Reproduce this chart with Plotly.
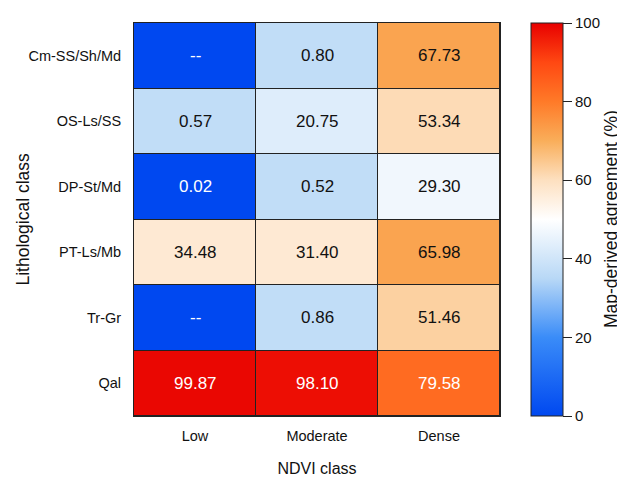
import plotly.graph_objects as go

ndvi_classes = ["Low", "Moderate", "Dense"]
litho_classes = ["Cm-SS/Sh/Md", "OS-Ls/SS", "DP-St/Md", "PT-Ls/Mb", "Tr-Gr", "Qal"]

# printed values (None = "--")
values = [
    [None, 0.80, 67.73],
    [0.57, 20.75, 53.34],
    [0.02, 0.52, 29.30],
    [34.48, 31.40, 65.98],
    [None, 0.86, 51.46],
    [99.87, 98.10, 79.58],
]

# colour level shown in each cell (% on colour bar)
color_level = [
    [0, 37, 72],
    [37, 43, 61],
    [0, 37, 47],
    [57, 57, 72],
    [0, 37, 63],
    [99, 98, 83],
]

colorbar_ticks = [0, 20, 40, 60, 80, 100]
colorbar_title = "Map-derived agreement (%)"
y_title = "Lithological class"
x_title = "NDVI class"

colorscale = [
    [0.0, "#0048f0"],
    [0.2, "#3a8cf8"],
    [0.35, "#b8d8f6"],
    [0.5, "#ffffff"],
    [0.6, "#fde0c0"],
    [0.7, "#f9ae5a"],
    [0.8, "#ff7a28"],
    [0.9, "#ff4812"],
    [1.0, "#e80000"],
]

font_family = "Liberation Sans, Arial, sans-serif"

fig = go.Figure()
fig.add_trace(go.Heatmap(
    z=color_level,
    x=ndvi_classes,
    y=litho_classes,
    zmin=0, zmax=100,
    colorscale=colorscale,
    xgap=1, ygap=1,
    hoverinfo="skip",
    colorbar=dict(
        x=1.085, xanchor="left", xref="paper", xpad=0,
        y=0.5, yanchor="middle", len=1.0, lenmode="fraction", ypad=0,
        thickness=32,
        outlinecolor="#222", outlinewidth=1,
        ticks="outside", ticklen=9, tickcolor="#222",
        tickvals=colorbar_ticks,
        tickfont=dict(family=font_family, size=15, color="#111"),
    ),
))

for i, row in enumerate(values):
    for j, v in enumerate(row):
        lvl = color_level[i][j]
        txt = "--" if v is None else f"{v:.2f}"
        col = "white" if (lvl < 15 or lvl > 78) else "#111"
        fig.add_annotation(x=ndvi_classes[j], y=litho_classes[i], text=txt,
                           showarrow=False,
                           font=dict(family=font_family, size=17, color=col))

# colour bar title
fig.add_annotation(x=1.302, y=0.5, xref="paper", yref="paper",
                   text=colorbar_title, textangle=-90, showarrow=False,
                   xanchor="center", yanchor="middle",
                   font=dict(family=font_family, size=17.5, color="#111"))
# y axis title
fig.add_annotation(x=-0.306, y=0.5, xref="paper", yref="paper",
                   text=y_title, textangle=-90, showarrow=False,
                   xanchor="center", yanchor="middle",
                   font=dict(family=font_family, size=17.5, color="#111"))

# page body has an 8px margin, so the figure is 8px smaller and margins shifted
fig.update_layout(
    width=617, height=470,
    margin=dict(l=126, r=125, t=15, b=62, autoexpand=False),
    paper_bgcolor="white",
    plot_bgcolor="#222",
    font=dict(family=font_family, color="#111"),
    xaxis=dict(
        title=dict(text=x_title, font=dict(size=16), standoff=19),
        tickfont=dict(size=14.5),
        range=[-0.5, 2.5], showgrid=False, zeroline=False,
        showline=True, linecolor="#222", linewidth=1, mirror=True,
        ticks="outside", ticklen=7, tickcolor="rgba(0,0,0,0)",
    ),
    yaxis=dict(
        tickfont=dict(size=14.5),
        range=[5.5, -0.5], showgrid=False, zeroline=False,
        showline=True, linecolor="#222", linewidth=1, mirror=True,
        ticks="outside", ticklen=9, tickcolor="rgba(0,0,0,0)",
    ),
)

fig.write_html("out.html")
